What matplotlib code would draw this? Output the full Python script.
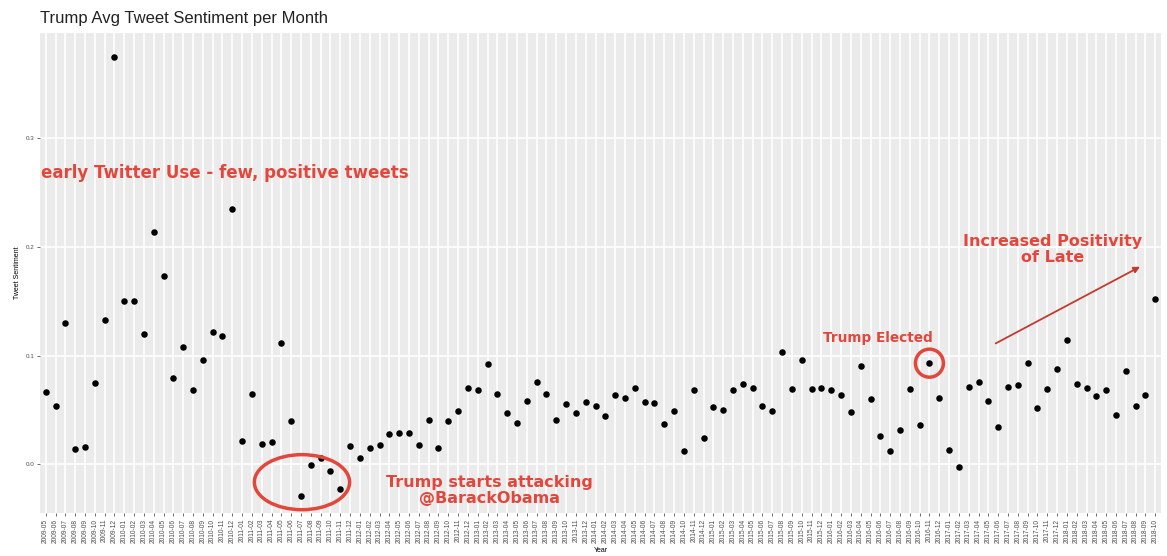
import matplotlib
matplotlib.use('Agg')
import matplotlib.pyplot as plt
from matplotlib.patches import Ellipse
import numpy as np
import pandas as pd

plt.rcParams['font.family'] = ['Liberation Sans', 'DejaVu Sans']

# monthly average sentiment, May 2009 - Oct 2018
months = pd.date_range('2009-05-01', periods=114, freq='MS').strftime('%Y-%m').tolist()
sentiment = [
    0.066, 0.054, 0.130, 0.014, 0.016, 0.075, 0.133, 0.375, 0.150, 0.150,
    0.120, 0.214, 0.173, 0.079, 0.108, 0.068, 0.096, 0.122, 0.118, 0.235,
    0.021, 0.065, 0.019, 0.020, 0.112, 0.040, -0.029, -0.001, 0.006, -0.006,
    -0.023, 0.017, 0.006, 0.015, 0.018, 0.028, 0.029, 0.029, 0.018, 0.041,
    0.015, 0.040, 0.049, 0.070, 0.068, 0.092, 0.065, 0.047, 0.038, 0.058,
    0.076, 0.065, 0.041, 0.055, 0.047, 0.057, 0.054, 0.044, 0.064, 0.061,
    0.070, 0.057, 0.056, 0.037, 0.049, 0.012, 0.068, 0.024, 0.053, 0.050,
    0.068, 0.074, 0.070, 0.054, 0.049, 0.103, 0.069, 0.096, 0.069, 0.070,
    0.068, 0.064, 0.048, 0.090, 0.060, 0.026, 0.012, 0.031, 0.069, 0.036,
    0.093, 0.061, 0.013, -0.003, 0.071, 0.076, 0.058, 0.034, 0.071, 0.073,
    0.093, 0.052, 0.069, 0.088, 0.114, 0.074, 0.070, 0.063, 0.068, 0.045,
    0.086, 0.054, 0.064, 0.152,
]
y_ticks = [0.0, 0.1, 0.2, 0.3]

red = '#e3473c'
note_font = ['DejaVu Sans']

fig = plt.figure(figsize=(11.67, 5.56), dpi=100)
ax = fig.add_axes([0.0341, 0.0773, 0.9609, 0.8633])
ax.set_facecolor('#ebebeb')

x = np.arange(1, len(months) + 1)
ax.scatter(x, sentiment, s=22, color='black', zorder=3, linewidths=0)

ax.set_xlim(0.4, len(months) + 0.6)
ax.set_ylim(-0.045, 0.397)
ax.set_xticks(x)
ax.set_xticklabels(months, rotation=90, fontsize=4.8, color='#4d4d4d')
ax.set_yticks(y_ticks)
ax.set_yticklabels(y_ticks, fontsize=4.5, color='#4d4d4d')
ax.tick_params(length=2.5, width=0.5, color='#333333', pad=1.5)
ax.grid(True, color='white', linewidth=1.2)
ax.set_axisbelow(True)
for s in ax.spines.values():
    s.set_visible(False)

ax.set_xlabel('Year', fontsize=5, labelpad=3)
ax.set_ylabel('Tweet Sentiment', fontsize=5, labelpad=3)
fig.text(0.034, 0.967, 'Trump Avg Tweet Sentiment per Month', fontsize=12,
         color='#222222', va='center', ha='left')

# annotations
ax.text(0.5, 0.268, 'early Twitter Use - few, positive tweets', color=red,
        fontsize=12, fontweight='bold', family=note_font, ha='left', va='center')
ax.text(46.2, -0.024, 'Trump starts attacking\n@BarackObama', color=red,
        fontsize=11.5, fontweight='bold', family=note_font, ha='center',
        va='center', linespacing=1.05)
ax.add_patch(Ellipse((27.1, -0.0166), 9.7, 0.0507, fill=False, edgecolor=red,
                     linewidth=2.5, zorder=4))
ax.text(85.75, 0.116, 'Trump Elected', color=red, fontsize=9.8,
        fontweight='bold', family=note_font, ha='center', va='center')
ax.add_patch(Ellipse((91, 0.093), 2.85, 0.0258, fill=False, edgecolor=red,
                     linewidth=2.5, zorder=4))
ax.text(103.5, 0.198, 'Increased Positivity\nof Late', color=red, fontsize=11.5,
        fontweight='bold', family=note_font, ha='center', va='center',
        linespacing=1.1)
ax.annotate('', xy=(112.7, 0.183), xytext=(97.5, 0.110),
            arrowprops=dict(arrowstyle='-|>', color='#c43a30', lw=1.3,
                            mutation_scale=9))

fig.savefig('out.png', dpi=100)
